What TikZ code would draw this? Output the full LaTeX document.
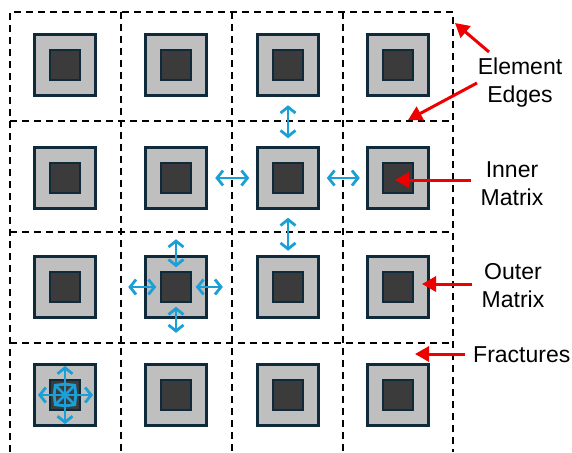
\documentclass[tikz,border=0pt]{standalone}
\usepackage{fontspec}
\setmainfont{Liberation Sans}
\usetikzlibrary{arrows.meta}
\definecolor{matrixnavy}{HTML}{0F2A3A}
\definecolor{outergray}{HTML}{BFBFBF}
\definecolor{innergray}{HTML}{3B3B3B}
\definecolor{flowblue}{HTML}{1A9FD6}
\definecolor{pointred}{HTML}{EE0000}
\begin{document}
\begin{tikzpicture}[
    x=1pt, y=-1pt,
    cell/.style={draw=black, line width=1.4pt, dash pattern=on 7pt off 5pt},
    outer/.style={draw=matrixnavy, fill=outergray, line width=2.5pt, minimum size=61pt, inner sep=0pt},
    inner/.style={draw=matrixnavy, fill=innergray, line width=2.5pt, minimum size=30pt, inner sep=0pt},
    flow/.style={draw=flowblue, line width=2.8pt, {Straight Barb[length=6pt,width=15pt]}-{Straight Barb[length=6pt,width=15pt]}},
    pointer/.style={draw=pointred, line width=3pt, -{Triangle[length=14pt,width=15pt]}},
    tag/.style={font=\fontsize{23}{28}\selectfont, align=center, inner sep=0pt}
]
\useasboundingbox (0,0) rectangle (572,452);
\draw[cell] (10,452) -- (10,12) -- (453,12) -- (453,452);
\foreach \x in {121,232,343} \draw[cell] (\x,12) -- (\x,452);
\foreach \y in {121,232,343} \draw[cell] (10,\y) -- (453,\y);
\foreach \c/\x in {1/65,2/176,3/288,4/398}
    \foreach \r/\y in {1/65,2/178,3/287,4/395} {
        \node[outer] (o\r\c) at (\x,\y) {};
        \node[inner] (i\r\c) at (\x,\y) {};
    }
\draw[flow] ([yshift=8pt]o23.north) -- ([yshift=41pt]o23.north);
\draw[flow] ([yshift=-8pt]o23.south) -- ([yshift=-41pt]o23.south);
\draw[flow] ([xshift=-7pt]o23.west) -- ([xshift=-41pt]o23.west);
\draw[flow] ([xshift=7pt]o23.east) -- ([xshift=40pt]o23.east);
\draw[flow] ([yshift=-12pt]o32.north) -- ([yshift=16pt]o32.north);
\draw[flow] ([yshift=12pt]o32.south) -- ([yshift=-14pt]o32.south);
\draw[flow] ([xshift=12pt]o32.west) -- ([xshift=-16pt]o32.west);
\draw[flow] ([xshift=-12pt]o32.east) -- ([xshift=15pt]o32.east);
\draw[flow] ([yshift=29pt]i41.center) -- ([yshift=-29pt]i41.center);
\draw[flow] ([xshift=-27pt]i41.center) -- ([xshift=28pt]i41.center);
\draw[flow] ([shift={(-11pt,11pt)}]i41.center) -- ([shift={(11pt,-11pt)}]i41.center);
\draw[flow] ([shift={(-11pt,-11pt)}]i41.center) -- ([shift={(11pt,11pt)}]i41.center);
\node[tag] (edges) at (520,83) {Element\\Edges};
\node[tag] (innerlbl) at (512,184) {Inner\\Matrix};
\node[tag] (outerlbl) at (513,286) {Outer\\Matrix};
\node[tag, anchor=base west] (fract) at (473,362) {Fractures};
\coordinate (edgesA) at (489,52);
\coordinate (edgesB) at (477,83);
\coordinate (corner) at (455,23);
\coordinate (edgetop) at (408,120);
\coordinate (innertip) at (395,180);
\coordinate (outertip) at (422,284);
\coordinate (fractgap) at (415,354);
\draw[pointer] (edgesA) -- (corner);
\draw[pointer] (edgesB) -- (edgetop);
\draw[pointer] (innerlbl.west |- innertip) ++(-10pt,0) -- (innertip);
\draw[pointer] (outerlbl.west |- outertip) ++(-10pt,0) -- (outertip);
\draw[pointer] (fract.west |- fractgap) ++(-8pt,0) -- (fractgap);
\end{tikzpicture}
\end{document}
